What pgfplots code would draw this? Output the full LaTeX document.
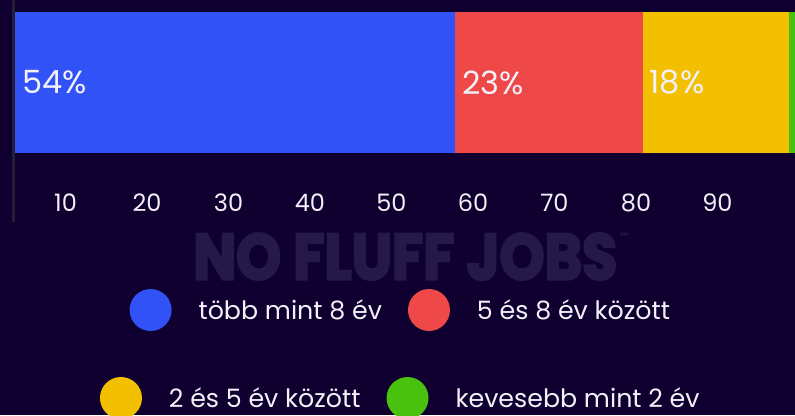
\documentclass[border=0pt]{standalone}
\usepackage{fontspec}
\setmainfont{Poppins}
\newfontfamily\wmfont{Poppins}[BoldFeatures={FakeBold=4}]
\usepackage{pgfplots}
\pgfplotsset{compat=1.18}

\definecolor{bg}{RGB}{15,0,47}
\definecolor{fg}{RGB}{242,240,248}
\definecolor{axgray}{RGB}{34,30,54}
\definecolor{wm}{RGB}{37,25,72}
\definecolor{cblue}{RGB}{48,82,246}
\definecolor{cred}{RGB}{238,72,72}
\definecolor{cyellow}{RGB}{242,192,0}
\definecolor{cgreen}{RGB}{72,194,14}

\pgfplotsset{
  common/.style={scale only axis, width=781.5pt, height=222pt,
    at={(13.5pt,193pt)}, anchor=south west,
    xmin=-0.184, xmax=95.71, ymin=0, ymax=222},
  dotleg/.style={legend image code/.code={%
    \fill[##1,draw=none] (0pt,0pt) circle (21pt);
    \path[draw=none,fill=none] (-21pt,0pt) -- (48pt,0pt);}},
  legrow/.style={legend columns=2, legend cell align=left,
    legend style={at={(axis description cs:0.4943,#1)}, anchor=center,
      draw=none, fill=none, text=fg, inner sep=0pt,
      font=\fontsize{25.3}{25.3}\selectfont,
      nodes={inner xsep=0pt},
      /tikz/every even column/.append style={column sep=26pt}}},
}

\begin{document}
\begin{tikzpicture}[x=1pt,y=1pt]
\useasboundingbox (0,0) rectangle (795,415);
\fill[bg] (0,0) rectangle (795,415);
% watermark
\node[text=wm, inner sep=0pt, anchor=south west] at (193,135)
  {\resizebox{424pt}{46pt}{\wmfont\bfseries NO FLUFF JOBS}};
\node[text=wm, inner sep=0pt, anchor=north west, font=\fontsize{9}{9}\selectfont\bfseries] at (620,182) {™};

\begin{axis}[common, xbar stacked, bar width=141,
  axis lines*=left, axis line style={-},
  x axis line style={draw=none},
  y axis line style={draw=axgray, line width=3pt},
  ytick=\empty, xtick={10,20,...,90}, major tick length=0pt,
  /pgf/number format/assume math mode=true,
  xticklabel style={anchor=center, yshift=19pt, xshift=-31pt,
    text=fg, font=\fontsize{24}{24}\selectfont},
  legrow=-0.3964]
\addplot[fill=cblue, draw=none, dotleg] coordinates {(54,139.5)};
\addplot[fill=cred, draw=none, dotleg] coordinates {(23,139.5)};
\addplot[fill=cyellow, draw=none, dotleg] coordinates {(18,139.5)};
\addplot[fill=cgreen, draw=none, dotleg] coordinates {(5,139.5)};
\legend{több mint 8 év, 5 és 8 év között}
\end{axis}

\begin{axis}[common, hide axis, legrow=-0.7928]
\addplot[forget plot, only marks, mark=text, text mark={},
  scatter/use mapped color={draw=none, fill=none},
  nodes near coords, point meta=explicit symbolic,
  nodes near coords style={anchor=west, inner sep=0pt, xshift=7pt,
    text=fg, font=\fontsize{32}{32}\selectfont}]
  coordinates {(0,139.5)[54\%] (54,139.5)[23\%] (77,139.5)[18\%]};
\addlegendimage{dotleg, fill=cyellow}
\addlegendentry{2 és 5 év között}
\addlegendimage{dotleg, fill=cgreen}
\addlegendentry{kevesebb mint 2 év}
\end{axis}
\end{tikzpicture}
\end{document}
